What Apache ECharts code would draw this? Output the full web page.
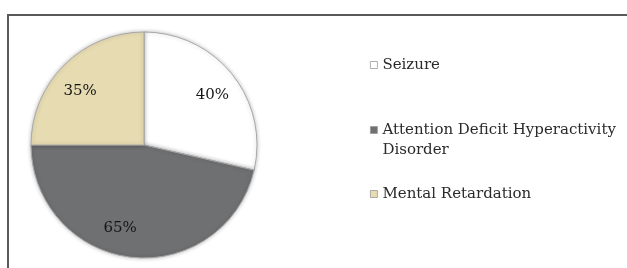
<!DOCTYPE html>
<html>
<head>
<meta charset="utf-8">
<script src="https://cdn.jsdelivr.net/npm/echarts@6/dist/echarts.min.js"></script>
<style>
  html, body { margin: 0; padding: 0; background: #fff; }
  #main { position: absolute; left: 0; top: 0; width: 627px; height: 268px; }
  #frame { position: absolute; left: 7px; top: 14px; right: -4px; bottom: -4px;
           border-top: 2px solid #5a5a5a; border-left: 2px solid #5a5a5a; pointer-events: none; }
</style>
</head>
<body>
<div id="main"></div>
<div id="frame"></div>
<script>
const categories = ['Seizure', 'Attention Deficit Hyperactivity Disorder', 'Mental Retardation']
const values = [40, 65, 35]
const colors = ['#ffffff', '#6e7072', '#e7dbb1']
const legendTops = [55, 100, 184]
// small nudges so the percent labels sit where the original put them
const labelNudge = [[0, 5], [-14, -4], [-2, 8]]

const font = 'DejaVu Serif'

function setChartOption(myChart) {
  const pieData = categories.map((name, i) => {
    return {
      name: name,
      value: values[i],
      itemStyle: { color: colors[i] }
    }
  })

  const legends = categories.map((name, i) => {
    const isLong = name.length > 30
    return {
      orient: 'vertical',
      left: 370,
      top: legendTops[i],
      padding: 0,
      itemWidth: 7,
      itemHeight: 7,
      icon: 'rect',
      selectedMode: false,
      data: [{
        name: name,
        itemStyle: { color: colors[i], borderColor: '#9a9a9a', borderWidth: 0.8 }
      }],
      // blank first line keeps the icon level with "Attention ..."
      formatter: function (n) {
        return isLong ? ' \nAttention Deficit Hyperactivity\nDisorder' : n
      },
      textStyle: {
        fontFamily: font,
        fontSize: 15,
        color: '#2a2a2a',
        lineHeight: 20
      }
    }
  })

  const option = {
    animation: false,
    legend: legends,
    series: [
      {
        type: 'pie',
        center: [144, 145],
        radius: 113,
        startAngle: 90,
        clockwise: true,
        label: { show: false },
        labelLine: { show: false },
        itemStyle: {
          borderColor: '#a8a8a8',
          borderWidth: 1,
          shadowBlur: 4,
          shadowColor: 'rgba(0,0,0,0.25)'
        },
        emphasis: { disabled: true },
        data: pieData
      },
      {
        // label ring: puts the inside labels at ~3/4 of the radius
        type: 'pie',
        center: [144, 145],
        radius: [56, 113],
        startAngle: 90,
        clockwise: true,
        silent: true,
        itemStyle: { color: 'transparent' },
        label: {
          show: true,
          position: 'inside',
          formatter: '{c}%',
          fontFamily: font,
          fontSize: 15,
          color: '#151515'
        },
        labelLine: { show: false },
        emphasis: { disabled: true },
        data: categories.map((name, i) => ({
          name: name,
          value: values[i],
          label: { offset: labelNudge[i] }
        }))
      }
    ]
  }
  myChart.setOption(option)
}

const myChart = echarts.init(document.getElementById('main'))
setChartOption(myChart)
</script>
</body>
</html>
